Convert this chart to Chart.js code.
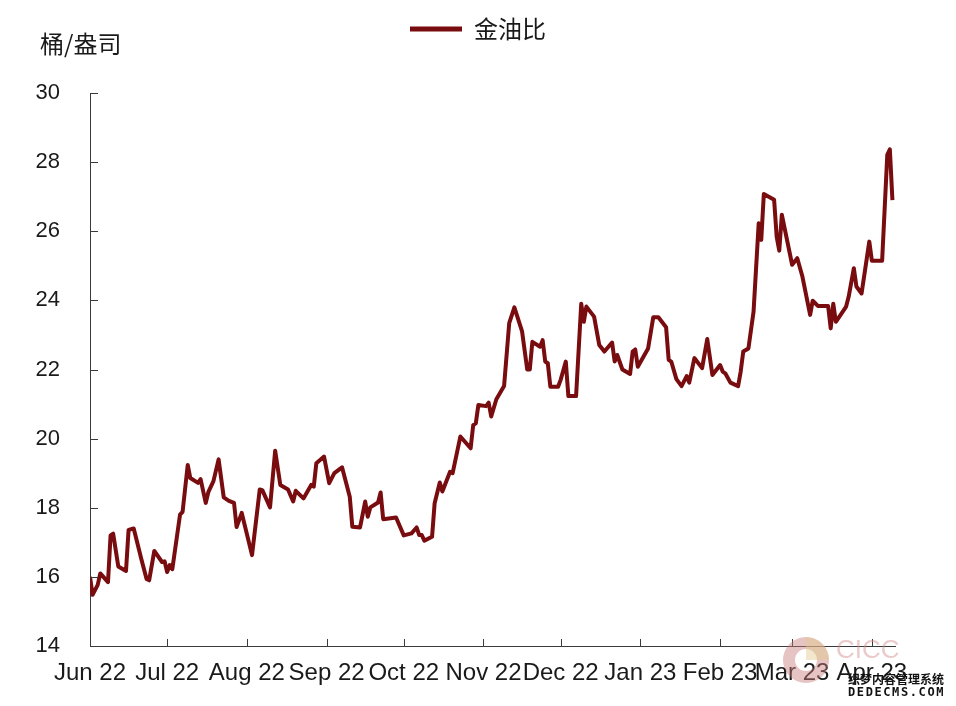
<!DOCTYPE html>
<html>
<head>
<meta charset="utf-8">
<title>金油比</title>
<script src="https://cdn.jsdelivr.net/npm/chart.js@4.4.1/dist/chart.umd.min.js"></script>
<style>
  html, body { margin: 0; padding: 0; background: #fff; }
  .chart-box { position: relative; width: 956px; height: 706px; }
</style>
</head>
<body>
<div class="chart-box"><canvas id="goldOil" width="956" height="706"></canvas></div>
<script>
  // 金油比 序列
  var seriesName = '金油比';
  var unitLabel = '桶/盎司';

  var dates = [
    '2022-06-01', '2022-06-02', '2022-06-04', '2022-06-05', '2022-06-08', '2022-06-09', '2022-06-10', '2022-06-12',
    '2022-06-15', '2022-06-16', '2022-06-18', '2022-06-21', '2022-06-23', '2022-06-24', '2022-06-26', '2022-06-29',
    '2022-06-30', '2022-07-01', '2022-07-02', '2022-07-03', '2022-07-06', '2022-07-07', '2022-07-09', '2022-07-10',
    '2022-07-13', '2022-07-14', '2022-07-16', '2022-07-17', '2022-07-19', '2022-07-21', '2022-07-23', '2022-07-25',
    '2022-07-27', '2022-07-28', '2022-07-30', '2022-08-03', '2022-08-06', '2022-08-07', '2022-08-10', '2022-08-12',
    '2022-08-14', '2022-08-17', '2022-08-19', '2022-08-20', '2022-08-23', '2022-08-26', '2022-08-27', '2022-08-28',
    '2022-08-31', '2022-09-02', '2022-09-04', '2022-09-07', '2022-09-10', '2022-09-11', '2022-09-14', '2022-09-16',
    '2022-09-17', '2022-09-18', '2022-09-21', '2022-09-22', '2022-09-23', '2022-09-28', '2022-10-01', '2022-10-04',
    '2022-10-06', '2022-10-07', '2022-10-08', '2022-10-09', '2022-10-12', '2022-10-13', '2022-10-15', '2022-10-16',
    '2022-10-19', '2022-10-20', '2022-10-23', '2022-10-27', '2022-10-28', '2022-10-29', '2022-10-30', '2022-11-02',
    '2022-11-03', '2022-11-04', '2022-11-06', '2022-11-09', '2022-11-11', '2022-11-13', '2022-11-16', '2022-11-18',
    '2022-11-19', '2022-11-20', '2022-11-23', '2022-11-24', '2022-11-25', '2022-11-26', '2022-11-27', '2022-11-30',
    '2022-12-01', '2022-12-03', '2022-12-04', '2022-12-07', '2022-12-09', '2022-12-10', '2022-12-11', '2022-12-14',
    '2022-12-16', '2022-12-18', '2022-12-21', '2022-12-22', '2022-12-23', '2022-12-25', '2022-12-28', '2022-12-29',
    '2022-12-30', '2022-12-31', '2023-01-04', '2023-01-06', '2023-01-08', '2023-01-11', '2023-01-12', '2023-01-13',
    '2023-01-15', '2023-01-17', '2023-01-19', '2023-01-20', '2023-01-22', '2023-01-25', '2023-01-27', '2023-01-29',
    '2023-02-01', '2023-02-02', '2023-02-03', '2023-02-05', '2023-02-08', '2023-02-09', '2023-02-10', '2023-02-12',
    '2023-02-14', '2023-02-16', '2023-02-17', '2023-02-18', '2023-02-22', '2023-02-23', '2023-02-24', '2023-02-25',
    '2023-03-01', '2023-03-03', '2023-03-05', '2023-03-08', '2023-03-09', '2023-03-11', '2023-03-15', '2023-03-16',
    '2023-03-17', '2023-03-18', '2023-03-22', '2023-03-23', '2023-03-25', '2023-03-26', '2023-03-28', '2023-03-31',
    '2023-04-01', '2023-04-05', '2023-04-07', '2023-04-08', '2023-04-09'
  ];

  var ratio = [
    16.00, 15.48, 15.77, 16.10, 15.85, 17.20, 17.25, 16.30,
    16.17, 17.36, 17.40, 16.50, 15.94, 15.90, 16.75, 16.43,
    16.45, 16.14, 16.34, 16.22, 17.80, 17.88, 19.24, 18.86,
    18.72, 18.83, 18.14, 18.45, 18.77, 19.40, 18.30, 18.20,
    18.14, 17.44, 17.85, 16.63, 18.53, 18.51, 18.01, 19.65,
    18.66, 18.53, 18.18, 18.49, 18.27, 18.66, 18.61, 19.29,
    19.48, 18.71, 19.00, 19.17, 18.32, 17.45, 17.43, 18.18,
    17.74, 18.01, 18.15, 18.44, 17.67, 17.72, 17.20, 17.26,
    17.43, 17.21, 17.21, 17.05, 17.16, 18.13, 18.73, 18.47,
    19.04, 19.00, 20.06, 19.72, 20.39, 20.44, 20.97, 20.94,
    21.04, 20.64, 21.14, 21.52, 23.34, 23.80, 23.10, 22.00,
    22.00, 22.80, 22.66, 22.85, 22.23, 22.18, 21.50, 21.50,
    21.70, 22.23, 21.23, 21.23, 23.90, 23.38, 23.82, 23.53,
    22.71, 22.52, 22.78, 22.23, 22.42, 22.00, 21.87, 22.52,
    22.58, 22.08, 22.61, 23.51, 23.51, 23.22, 22.28, 22.23,
    21.72, 21.52, 21.81, 21.62, 22.33, 22.04, 22.88, 21.84,
    22.13, 21.94, 21.89, 21.62, 21.52, 21.94, 22.52, 22.61,
    23.67, 26.23, 25.75, 27.08, 26.91, 25.84, 25.44, 26.48,
    25.03, 25.22, 24.69, 23.58, 23.99, 23.84, 23.84, 23.19,
    23.90, 23.38, 23.82, 24.11, 24.93, 24.40, 24.20, 25.70,
    25.15, 25.15, 28.21, 28.37, 26.90
  ];

  var monthTicks = ['2022-06-01', '2022-07-01', '2022-08-01', '2022-09-01', '2022-10-01', '2022-11-01',
    '2022-12-01', '2023-01-01', '2023-02-01', '2023-03-01', '2023-04-01'];
  var monthLabels = ['Jun 22', 'Jul 22', 'Aug 22', 'Sep 22', 'Oct 22', 'Nov 22',
    'Dec 22', 'Jan 23', 'Feb 23', 'Mar 23', 'Apr 23'];
  var axisEnd = '2023-04-10';

  var lineColor = '#780c0f';
  var textColor = '#1a1a1a';
  var axisColor = '#3a3a3a';

  var origin = Date.UTC(2022, 5, 1);
  function dayOf(s) {
    var p = s.split('-');
    return (Date.UTC(+p[0], +p[1] - 1, +p[2]) - origin) / 86400000;
  }

  var points = dates.map(function (d, i) { return { x: dayOf(d), y: ratio[i] }; });
  var tickDays = monthTicks.map(dayOf);

  // 刻度朝内 + 单位 + 水印
  var extras = {
    id: 'extras',
    afterDraw: function (chart) {
      var ctx = chart.ctx, a = chart.chartArea;
      var xs = chart.scales.x, ys = chart.scales.y;
      ctx.save();
      ctx.strokeStyle = axisColor;
      ctx.lineWidth = 1;
      ctx.beginPath();
      xs.ticks.forEach(function (t) {
        var px = Math.round(xs.getPixelForValue(t.value)) + 0.5;
        ctx.moveTo(px, a.bottom);
        ctx.lineTo(px, a.bottom - 7);
      });
      ys.ticks.forEach(function (t) {
        var py = Math.round(ys.getPixelForValue(t.value)) + 0.5;
        ctx.moveTo(a.left, py);
        ctx.lineTo(a.left + 8, py);
      });
      ctx.stroke();

      ctx.fillStyle = textColor;
      ctx.font = '24px "Noto Sans CJK SC", sans-serif';
      ctx.textBaseline = 'middle';
      ctx.textAlign = 'left';
      ctx.fillText(unitLabel, 40, 44);

      // CICC 水印
      ctx.globalAlpha = 0.45;
      ctx.fillStyle = '#c77c7c';
      ctx.beginPath();
      ctx.arc(806, 660, 23, 0, Math.PI * 2);
      ctx.arc(806, 660, 11, 0, Math.PI * 2, true);
      ctx.fill();
      ctx.fillStyle = '#e3c98f';
      ctx.beginPath();
      ctx.moveTo(806, 660);
      ctx.arc(806, 660, 23, -Math.PI / 2, 0);
      ctx.closePath();
      ctx.fill();
      ctx.fillStyle = '#d08a8a';
      ctx.font = '26px "Liberation Sans", Arial, sans-serif';
      ctx.fillText('CICC', 836, 651);
      ctx.globalAlpha = 1;

      ctx.fillStyle = '#111';
      ctx.font = 'bold 12px "Noto Sans CJK SC", sans-serif';
      ctx.fillText('织梦内容管理系统', 848, 679);
      ctx.font = 'bold 12px "DejaVu Sans Mono", monospace';
      ctx.letterSpacing = '1.6px';
      ctx.fillText('DEDECMS.COM', 848, 693);
      ctx.restore();
    }
  };

  new Chart(document.getElementById('goldOil'), {
    type: 'line',
    data: {
      datasets: [{
        label: seriesName,
        data: points,
        borderColor: lineColor,
        backgroundColor: lineColor,
        borderWidth: 4,
        pointRadius: 0,
        tension: 0,
        borderJoinStyle: 'round',
        fill: false
      }]
    },
    options: {
      responsive: false,
      animation: false,
      devicePixelRatio: 1,
      layout: { padding: { top: 7, right: 0, bottom: 0, left: 0 } },
      plugins: {
        tooltip: { enabled: false },
        legend: {
          position: 'top',
          align: 'center',
          labels: {
            boxWidth: 52,
            boxHeight: 5,
            padding: 10,
            color: textColor,
            font: { family: '"Noto Sans CJK SC", sans-serif', size: 24 },
            generateLabels: function () {
              return [{ text: seriesName, fillStyle: lineColor, strokeStyle: lineColor, lineWidth: 0, hidden: false, datasetIndex: 0, fontColor: textColor }];
            }
          }
        },
        // 图例与绘图区之间的留白
        subtitle: {
          display: true,
          text: '',
          weight: 500,
          font: { size: 10, lineHeight: 1 },
          padding: { top: 0, bottom: 32 }
        }
      },
      scales: {
        x: {
          type: 'linear',
          min: 0,
          max: dayOf(axisEnd),
          grid: { display: false, drawTicks: false },
          border: { display: true, color: axisColor, width: 1 },
          afterBuildTicks: function (scale) {
            scale.ticks = tickDays.map(function (v) { return { value: v }; });
          },
          afterFit: function (scale) { scale.height = 60; },
          ticks: {
            autoSkip: false,
            maxRotation: 0,
            padding: 13,
            color: textColor,
            font: { family: '"Liberation Sans", Arial, sans-serif', size: 24 },
            callback: function (v, i) { return monthLabels[i]; }
          }
        },
        y: {
          min: 14,
          max: 30,
          grid: { display: false, drawTicks: false },
          border: { display: true, color: axisColor, width: 1 },
          afterFit: function (scale) { scale.width = 90; },
          ticks: {
            stepSize: 2,
            padding: 30,
            color: textColor,
            font: { family: '"Liberation Sans", Arial, sans-serif', size: 22 }
          }
        },
        // 右侧空白轴，只用来留出右边距
        yRight: {
          position: 'right',
          display: true,
          grid: { display: false, drawTicks: false },
          border: { display: false },
          ticks: { display: false },
          afterFit: function (scale) { scale.width = 61; }
        }
      }
    },
    plugins: [extras]
  });
</script>
</body>
</html>
